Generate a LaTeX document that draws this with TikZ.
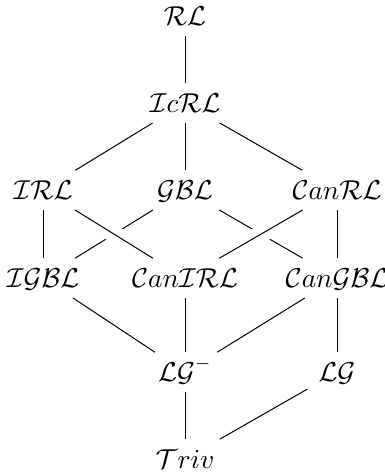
\documentclass[tikz,border=0pt]{standalone}
\begin{document}
\begin{tikzpicture}[x=0.4pt,y=-0.4pt,
  lat/.style={anchor=base, text height=7.1pt, text depth=0pt,
    inner xsep=4.2pt, inner ysep=4.2pt, font=\fontsize{10.5}{12.5}\selectfont},
  link/.style={draw=black, line width=0.4pt},
  over/.style={link, preaction={draw=white, line width=7pt}}]
\useasboundingbox (0,0) rectangle (385,473);
% row 0
\node[lat] (rl) at (185,25) {$\mathcal{RL}$};
% row 1
\node[lat] (icrl) at (185,112) {$\mathcal{I}c\mathcal{RL}$};
% row 2
\node[lat] (irl) at (43,199) {$\mathcal{IRL}$};
\node[lat] (gbl) at (185,199) {$\mathcal{GBL}$};
\node[lat] (canrl) at (337,199) {$\mathcal{C}an\mathcal{RL}$};
% row 3
\node[lat] (igbl) at (43,287) {$\mathcal{IGBL}$};
\node[lat] (canirl) at (185,287) {$\mathcal{C}an\mathcal{IRL}$};
\node[lat] (cangbl) at (337,287) {$\mathcal{C}an\mathcal{GBL}$};
% row 4
\node[lat] (lgm) at (185,381) {$\mathcal{LG}^-$};
\node[lat] (lg) at (337,381) {$\mathcal{LG}$};
% row 5
\node[lat] (triv) at (185,468) {$\mathcal{T}riv$};
% connectors
\draw[link] (rl) -- (icrl);
\draw[link] (icrl) -- (irl);
\draw[link] (icrl) -- (gbl);
\draw[link] (icrl) -- (canrl);
\draw[link] (irl) -- (igbl);
\draw[link] (gbl) -- (igbl);
\draw[link] (gbl) -- (cangbl);
\draw[link] (canrl) -- (cangbl);
\draw[over] (irl) -- (canirl);
\draw[over] (canrl) -- (canirl);
\draw[link] (igbl) -- (lgm);
\draw[link] (canirl) -- (lgm);
\draw[link] (cangbl) -- (lgm);
\draw[link] (cangbl) -- (lg);
\draw[link] (lgm) -- (triv);
\draw[link] (lg) -- (triv);
\end{tikzpicture}
\end{document}
